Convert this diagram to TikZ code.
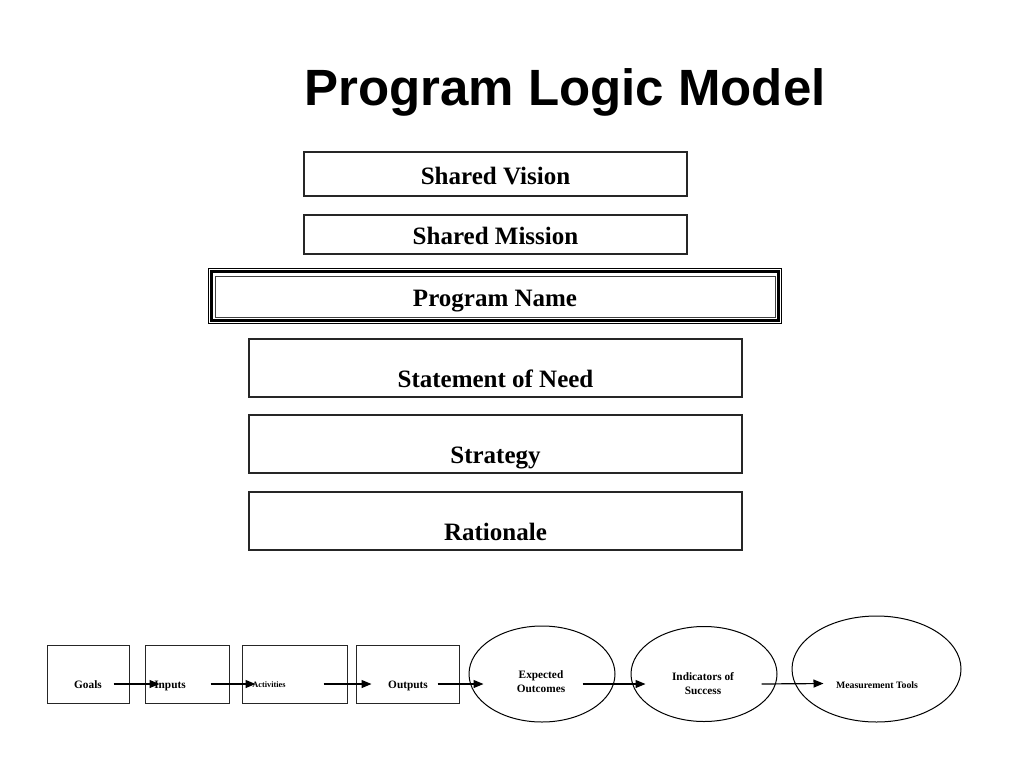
\documentclass[tikz,border=0pt]{standalone}
\usepackage{fontspec}
\setmainfont{Liberation Serif}
\newfontfamily\titlefont{Liberation Sans}
\usetikzlibrary{shapes.geometric,arrows.meta}
\tikzset{
  topbox/.style={draw=black!85,line width=1.3pt,inner sep=0pt},
  smallbox/.style={draw=black!85,line width=1pt,inner sep=0pt},
  oval/.style={draw=black,line width=1pt,ellipse,inner sep=0pt},
  boxtext/.style={font=\bfseries\fontsize{25}{30}\selectfont,anchor=base,inner sep=0pt},
  smalltext/.style={font=\bfseries\fontsize{11.3}{14}\selectfont,align=center,inner sep=0pt},
  flow/.style={line width=1.2pt,-{Triangle[length=10pt,width=8pt]}},
}
\begin{document}
\begin{tikzpicture}[x=1pt,y=-1pt]
\useasboundingbox[fill=white] (0,0) rectangle (1024,768);

% title
\node[font=\titlefont\bfseries\fontsize{51}{60}\selectfont,anchor=base,inner sep=0pt] (title) at (565,105) {Program Logic Model};

% top boxes
\node[topbox,minimum width=383pt,minimum height=44pt] (vision) at (495.5,174) {};
\node[boxtext] (visiont) at (495.5,184.5) {Shared Vision};

\node[topbox,minimum width=383pt,minimum height=39pt] (mission) at (495.5,234.5) {};
\node[boxtext] (missiont) at (495.5,244.5) {Shared Mission};

% program name triple frame
\node[draw=black,line width=1pt,minimum width=573pt,minimum height=55.5pt,inner sep=0pt] (pnouter) at (495,296.2) {};
\node[draw=black,line width=3pt,minimum width=567pt,minimum height=48.5pt,inner sep=0pt] (pn) at (495,296.2) {};
\node[draw=black!75,line width=1pt,minimum width=560pt,minimum height=41pt,inner sep=0pt] (pninner) at (495,296.5) {};
\node[boxtext] (pnt) at (495,306) {Program Name};

\node[topbox,minimum width=493pt,minimum height=58pt] (need) at (495.5,368) {};
\node[boxtext] (needt) at (495.5,387.5) {Statement of Need};

\node[topbox,minimum width=493pt,minimum height=58pt] (strategy) at (495.5,444) {};
\node[boxtext] (strategyt) at (495.5,463.5) {Strategy};

\node[topbox,minimum width=493pt,minimum height=58pt] (rationale) at (495.5,521) {};
\node[boxtext] (rationalet) at (495.5,540.5) {Rationale};

% bottom row
\node[smallbox,minimum width=82pt,minimum height=58pt] (goals) at (88,674) {};
\node[smalltext,anchor=base] (goalst) at (88,688) {Goals};

\node[smallbox,minimum width=84pt,minimum height=58pt] (inputs) at (187,674) {};
\node[smalltext,anchor=base] (inputst) at (170,688) {Inputs};

\node[smallbox,minimum width=105pt,minimum height=58pt] (act) at (294.5,674) {};
\node[smalltext,anchor=base,font=\bfseries\fontsize{8.3}{10}\selectfont] (actt) at (269,687) {Activities};

\node[smallbox,minimum width=103pt,minimum height=58pt] (outputs) at (407.5,674) {};
\node[smalltext,anchor=base] (outputst) at (408,688) {Outputs};

\node[oval,minimum width=146pt,minimum height=96pt] (exp) at (542,674) {};
\node[smalltext] (expt) at (541,682) {Expected\\Outcomes};

\node[oval,minimum width=146pt,minimum height=95pt] (ind) at (704,674) {};
\node[smalltext] (indt) at (703,684) {Indicators of\\Success};

\node[oval,minimum width=169pt,minimum height=106pt] (meas) at (876.5,669) {};
\node[smalltext,font=\bfseries\fontsize{9.8}{12}\selectfont] (meast) at (877,685) {Measurement Tools};

% connectors
\draw[flow] ([shift={(-16,10)}]goals.east) -- ([shift={(15,10)}]inputs.west);
\draw[flow] ([shift={(-19,10)}]inputs.east) -- ([shift={(14,10)}]act.west);
\draw[flow] ([shift={(-24,10)}]act.east) -- ([shift={(16,10)}]outputs.west);
\draw[flow] ([shift={(-22,10)}]outputs.east) -- ([shift={(15,10)}]exp.west);
\draw[flow] ([shift={(-33,10)}]exp.east) -- ([shift={(15,10)}]ind.west);
\draw[flow] ([shift={(-16,10)}]ind.east) -- ([shift={(32,14.5)}]meas.west);
\end{tikzpicture}
\end{document}
